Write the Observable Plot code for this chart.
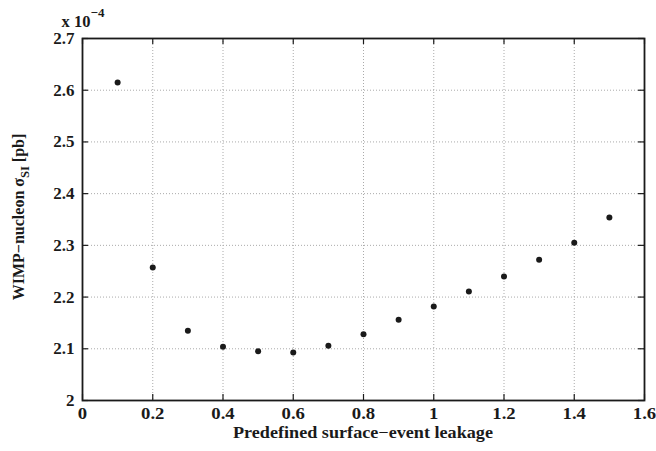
<!DOCTYPE html>
<html>
<head>
<meta charset="utf-8">
<script src="https://cdn.jsdelivr.net/npm/d3@7"></script>
<script src="https://cdn.jsdelivr.net/npm/@observablehq/plot@0.6"></script>
<style>
  html, body { margin: 0; padding: 0; background: #fff; }
  #chart svg { display: block; }
</style>
</head>
<body>
<div id="chart"></div>
<script>
// Data (sigma in units of 1e-4 pb)
const leakage = [0.1, 0.2, 0.3, 0.4, 0.5, 0.6, 0.7, 0.8, 0.9, 1.0, 1.1, 1.2, 1.3, 1.4, 1.5];
const sigma   = [2.615, 2.257, 2.135, 2.104, 2.095, 2.093, 2.106, 2.128, 2.156, 2.182, 2.211, 2.240, 2.272, 2.305, 2.354];
const xTicks = [0, 0.2, 0.4, 0.6, 0.8, 1, 1.2, 1.4, 1.6];
const yTicks = [2, 2.1, 2.2, 2.3, 2.4, 2.5, 2.6, 2.7];
const xLabel = "Predefined surface\u2212event leakage";
const yLabelMain = "WIMP\u2212nucleon \u03C3";
const yLabelSub = "SI";
const yLabelEnd = " [pb]";
const exponentBase = "x 10";
const exponentPow = "\u22124";

const W = 656, H = 451;
const mL = 82, mR = 12, mT = 38, mB = 51;
const plotW = W - mL - mR, plotH = H - mT - mB;
const tickLen = 6;
const stretch = 1.1;

const data = leakage.map((x, i) => ({x, y: sigma[i]}));
const font = "'Liberation Serif', 'Times New Roman', serif";
const ink = "#1a1a1a";

const chart = Plot.plot({
  width: W, height: H,
  marginLeft: mL, marginRight: mR, marginTop: mT, marginBottom: mB,
  x: {domain: [0, 1.6]},
  y: {domain: [2, 2.7]},
  style: {fontFamily: font, fontWeight: "bold", fontSize: "17px", color: ink, background: "#fff"},
  marks: [
    Plot.gridX(xTicks, {stroke: "#aaa", strokeOpacity: 1, strokeWidth: 1, strokeDasharray: "1,2"}),
    Plot.gridY(yTicks, {stroke: "#aaa", strokeOpacity: 1, strokeWidth: 1, strokeDasharray: "1,2"}),
    // inward ticks on all four sides
    Plot.ruleX(xTicks, {insetTop: plotH - tickLen, stroke: ink, strokeWidth: 1.2}),
    Plot.ruleX(xTicks, {insetBottom: plotH - tickLen, stroke: ink, strokeWidth: 1.2}),
    Plot.ruleY(yTicks, {insetRight: plotW - tickLen, stroke: ink, strokeWidth: 1.2}),
    Plot.ruleY(yTicks, {insetLeft: plotW - tickLen, stroke: ink, strokeWidth: 1.2}),
    Plot.frame({stroke: ink, strokeWidth: 1.8}),
    Plot.dot(data, {x: "x", y: "y", r: 3, fill: ink, stroke: "none"}),
    Plot.axisX(xTicks, {tickSize: 0, tickPadding: 0, label: null, tickFormat: d => String(d)}),
    Plot.axisY(yTicks, {tickSize: 0, tickPadding: 8, label: null, tickFormat: d => String(d)})
  ]
});

document.getElementById("chart").appendChild(chart);

const svg = d3.select(chart.tagName.toLowerCase() === "svg" ? chart : chart.querySelector("svg"));
svg.selectAll("text").attr("font-size", 17).attr("font-weight", "bold");

// place x tick labels: absolute baseline at ~419
svg.selectAll('[aria-label="x-axis tick label"] text').each(function() {
  const g = this.parentNode;
  const ctm = g.getCTM ? g.getCTM() : null;
  const gy = ctm ? ctm.f : 0;
  const t = this.getAttribute("transform") || "";
  const m = /translate\(([^,\s]+)[,\s]+([^)]+)\)/.exec(t);
  const ty = m ? +m[2] : 0;
  this.removeAttribute("dy");
  this.setAttribute("y", (419 - gy - ty).toFixed(2));
});

// x-axis label
svg.append("text")
  .attr("class", "stretch")
  .attr("x", mL + plotW / 2)
  .attr("y", 438)
  .attr("text-anchor", "middle")
  .attr("font-family", font)
  .attr("font-weight", "bold")
  .attr("font-size", 16.5)
  .attr("fill", ink)
  .text(xLabel);

// y-axis label with subscript
const yl = svg.append("text")
  .attr("transform", `translate(24,${mT + plotH / 2 - 2}) rotate(-90)`)
  .attr("text-anchor", "middle")
  .attr("font-family", font)
  .attr("font-weight", "bold")
  .attr("font-size", 16)
  .attr("fill", ink);
yl.append("tspan").text(yLabelMain);
yl.append("tspan").attr("dy", 5).attr("font-size", 12.5).text(yLabelSub);
yl.append("tspan").attr("dy", -5).text(yLabelEnd);

// exponent annotation
const ex = svg.append("text")
  .attr("x", mL + 1)
  .attr("y", 27)
  .attr("font-family", font)
  .attr("font-weight", "bold")
  .attr("font-size", 16.5)
  .attr("fill", ink);
ex.append("tspan").text(exponentBase);
ex.append("tspan").attr("dy", -10).attr("font-size", 13).text(exponentPow);

// horizontally stretch horizontal texts to mimic the reference's aspect
svg.selectAll('[aria-label="x-axis tick label"] text, text.stretch')
  .each(function() {
    const w = this.getComputedTextLength();
    if (w > 0) {
      this.setAttribute("textLength", (w * stretch).toFixed(2));
      this.setAttribute("lengthAdjust", "spacingAndGlyphs");
    }
  });
</script>
</body>
</html>
